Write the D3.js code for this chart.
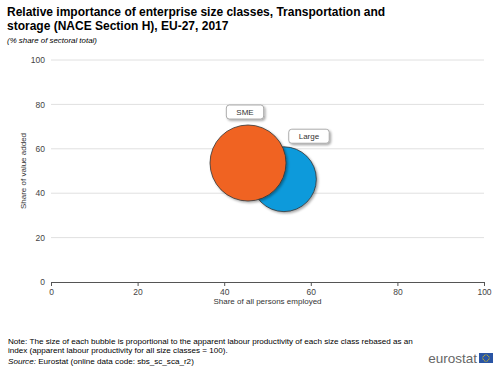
<!DOCTYPE html>
<html>
<head>
<meta charset="utf-8">
<script src="https://cdn.jsdelivr.net/npm/d3@7"></script>
<style>
body{margin:0;background:#fff;font-family:"Liberation Sans",Arial,sans-serif;}
</style>
</head>
<body>
<svg width="500" height="370"></svg>
<script>
const svg=d3.select("svg");
const sizeClasses=["SME","Large"];
const employed=[45.5,53.8];
const valueAdded=[53.6,46.3];
const productivity=[117,85];
const colors=["#F06423","#0E9ADB"];
const xTicks=[0,20,40,60,80,100];
const yTicks=[0,20,40,60,80,100];

const x=d3.scaleLinear().domain([0,100]).range([51,484]);
const y=d3.scaleLinear().domain([0,100]).range([282,60]);
const r=d3.scaleSqrt().domain([0,117]).range([0,38]);

const defs=svg.append("defs");
const f=defs.append("filter").attr("id","shadow").attr("x","-30%").attr("y","-30%").attr("width","160%").attr("height","160%");
f.append("feDropShadow").attr("dx",1.5).attr("dy",1.5).attr("stdDeviation",1.2).attr("flood-color","#000").attr("flood-opacity",0.35);

//TITLE
svg.append("text").attr("x",7).attr("y",16).attr("font-size","12px").attr("font-weight","bold").attr("fill","#000")
   .text("Relative importance of enterprise size classes, Transportation and");
svg.append("text").attr("x",7).attr("y",30).attr("font-size","12px").attr("font-weight","bold").attr("fill","#000")
   .text("storage (NACE Section H), EU-27, 2017");
svg.append("text").attr("x",7).attr("y",43).attr("font-size","7.9px").attr("font-style","italic").attr("fill","#000")
   .text("(% share of sectoral total)");

//GRID
svg.append("g").selectAll("line").data(yTicks.filter(d=>d>0)).enter().append("line")
   .attr("x1",x(0)).attr("x2",x(100)).attr("y1",d=>y(d)).attr("y2",d=>y(d))
   .attr("stroke","#e0e0e0").attr("stroke-width",1);

//Y AXIS
const yAxis=svg.append("g").attr("transform","translate("+(x(0)-6)+",0)")
   .call(d3.axisLeft(y).tickValues(yTicks).tickSize(0).tickPadding(0));
yAxis.select(".domain").remove();
yAxis.selectAll("text").attr("font-size","8.5px").attr("fill","#444").attr("font-family","Liberation Sans, Arial, sans-serif");

//X AXIS
const xAxis=svg.append("g").attr("transform","translate(0,"+y(0)+")")
   .call(d3.axisBottom(x).tickValues(xTicks).tickSize(4).tickSizeOuter(0).tickPadding(3));
xAxis.select(".domain").attr("stroke","#555");
xAxis.selectAll(".tick line").attr("stroke","#555");
xAxis.selectAll("text").attr("font-size","8.5px").attr("fill","#444").attr("font-family","Liberation Sans, Arial, sans-serif");

svg.append("text").attr("x",(x(0)+x(100))/2).attr("y",304).attr("text-anchor","middle")
   .attr("font-size","8px").attr("fill","#333").text("Share of all persons employed");
svg.append("text").attr("transform","translate(26,"+((y(0)+y(100))/2)+") rotate(-90)").attr("text-anchor","middle")
   .attr("font-size","8px").attr("fill","#333").text("Share of value added");

//BUBBLES (SME drawn on top)
const data=sizeClasses.map((c,i)=>({name:c,x:employed[i],y:valueAdded[i],z:productivity[i],color:colors[i]}));
const order=[1,0];
svg.append("g").selectAll("circle").data(order.map(i=>data[i])).enter().append("circle")
   .attr("cx",d=>x(d.x)).attr("cy",d=>y(d.y)).attr("r",d=>r(d.z))
   .attr("fill",d=>d.color).attr("stroke","#333").attr("stroke-width",0.8)
   .attr("filter","url(#shadow)");

//LABELS
const labelPos=[{dx:-3,dy:-51},{dx:25,dy:-43}];
data.forEach((d,i)=>{
   const cx=x(d.x)+labelPos[i].dx, cy=y(d.y)+labelPos[i].dy;
   const g=svg.append("g").attr("transform","translate("+cx+","+cy+")");
   const t=g.append("text").attr("text-anchor","middle").attr("dy","0.35em")
      .attr("font-size","8px").attr("fill","#333").text(d.name);
   const w=t.node().getComputedTextLength()+20;
   g.insert("rect","text").attr("x",-w/2).attr("y",-7).attr("width",w).attr("height",14)
      .attr("rx",3).attr("fill","#fff").attr("stroke","#999").attr("stroke-width",0.8)
      .attr("filter","url(#shadow)");
});

//NOTES
svg.append("text").attr("x",8).attr("y",344).attr("font-size","8.1px").attr("fill","#000")
   .text("Note: The size of each bubble is proportional to the apparent labour productivity of each size class rebased as an");
svg.append("text").attr("x",8).attr("y",353).attr("font-size","8.1px").attr("fill","#000")
   .text("index (apparent labour productivity for all size classes = 100).");
const src=svg.append("text").attr("x",8).attr("y",364).attr("font-size","8.1px").attr("fill","#000");
src.append("tspan").attr("font-style","italic").text("Source:");
src.append("tspan").text(" Eurostat (online data code: sbs_sc_sca_r2)");

//LOGO
svg.append("text").attr("x",477).attr("y",363).attr("text-anchor","end").attr("font-size","13.5px")
   .attr("fill","#666").attr("font-family","Liberation Sans, Arial, sans-serif").text("eurostat");
svg.append("rect").attr("x",479).attr("y",353).attr("width",14).attr("height",10).attr("fill","#2a55a5");
const stars=d3.range(12);
svg.append("g").selectAll("circle").data(stars).enter().append("circle")
   .attr("cx",d=>486+3.2*Math.cos(d*Math.PI/6)).attr("cy",d=>358+3.2*Math.sin(d*Math.PI/6))
   .attr("r",0.5).attr("fill","#f6d300");
</script>
</body>
</html>
